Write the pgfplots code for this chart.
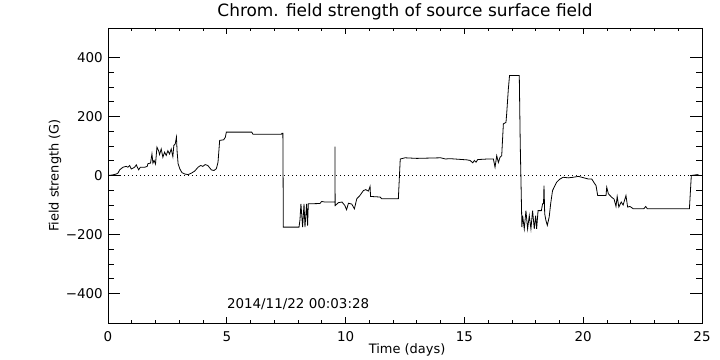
\documentclass[border=0pt]{standalone}
\usepackage{fontspec}
\setmainfont{DejaVu Sans}
\usepackage{pgfplots}
\pgfplotsset{compat=1.18}
\begin{document}
\begin{tikzpicture}
\path[use as bounding box] (0,0) rectangle (720bp,360bp);
\begin{axis}[
  at={(108bp,37bp)}, anchor=south west,
  scale only axis, width=594bp, height=295bp,
  xmin=0, xmax=25, ymin=-500, ymax=500,
  xtick={0,5,10,15,20,25}, minor x tick num=4,
  ytick={-400,-200,0,200,400}, yticklabels={−400,−200,0,200,400}, minor y tick num=3,
  tick align=inside,
  /pgf/number format/assume math mode=true,
  axis line style={line width=0.8bp},
  every tick/.style={black, line width=0.8bp},
  xtick style={/pgfplots/major tick length=6bp, /pgfplots/minor tick length=3bp},
  ytick style={/pgfplots/major tick length=12bp, /pgfplots/minor tick length=6bp},
  tick label style={font=\fontsize{13.5}{15}\selectfont},
  xticklabel style={anchor=north, inner sep=0pt, yshift=-8bp},
  yticklabel style={anchor=east, inner sep=0pt, xshift=-5bp},
  title={Chrom. field strength of source surface field},
  title style={at={(axis description cs:0.5,1.0203)}, anchor=base, inner sep=0pt, font=\fontsize{17}{19}\selectfont},
  xlabel={Time (days)},
  xlabel style={at={(axis description cs:0.5035,-0.09)}, anchor=center, inner sep=0pt, font=\fontsize{13}{15}\selectfont},
  ylabel={Field strength (G)},
  ylabel style={at={(axis description cs:-0.0892,0.5)}, anchor=center, inner sep=0pt, rotate=0, font=\fontsize{13}{15}\selectfont},
  clip=true,
]
\addplot[black, line width=0.8bp, dash pattern=on 1bp off 3bp] coordinates {(0,0) (25,0)};
\addplot[black, line width=0.8bp] coordinates {
(0,0) (0.2,2) (0.35,5) (0.42,8) (0.49,19) (0.63,28) (0.77,31) (0.84,28) (0.91,34) (0.98,22) (1.12,28) (1.19,36) (1.29,19) (1.36,28) (1.54,28) (1.65,31) (1.68,40) (1.79,42) (1.85,73) (1.89,42) (1.94,51) (2.0,39) (2.06,96) (2.13,84) (2.17,71) (2.24,90) (2.31,62) (2.38,79) (2.45,68) (2.52,84) (2.59,73) (2.66,90) (2.73,64) (2.77,102) (2.83,107) (2.88,130) (2.91,80) (2.95,40) (3.02,23) (3.11,10) (3.23,5) (3.37,3) (3.51,8) (3.65,15) (3.79,28) (3.9,34) (3.99,31) (4.09,37) (4.2,34) (4.35,19) (4.46,17) (4.56,23) (4.63,45) (4.7,119) (4.87,121) (4.94,130) (4.98,147) (6.05,147) (6.1,140) (7.3,140) (7.32,143) (7.36,143) (7.38,-175) (8.04,-175) (8.08,-150) (8.12,-96) (8.19,-175) (8.25,-96) (8.29,-175) (8.36,-96) (8.4,-170) (8.43,-96) (8.92,-95) (8.99,-88) (9.13,-90) (9.55,-90) (9.55,98) (9.56,-102) (9.7,-92) (9.85,-90) (9.97,-102) (10.04,-116) (10.12,-94) (10.26,-97) (10.37,-113) (10.47,-79) (10.6,-68) (10.75,-51) (10.85,-48) (10.96,-53) (11.03,-37) (11.05,-71) (11.45,-73) (11.52,-79) (12.22,-79) (12.3,56) (12.5,60) (13.0,58) (13.5,59) (14.0,60) (14.2,56) (14.4,57) (15.1,53) (15.24,51) (15.35,43) (15.42,51) (15.49,45) (15.56,54) (16.0,56) (16.22,56) (16.29,28) (16.36,67) (16.43,44) (16.5,62) (16.57,67) (16.64,175) (16.75,180) (16.78,210) (16.85,294) (16.9,339) (17.31,339) (17.35,107) (17.42,-175) (17.45,-136) (17.52,-181) (17.59,-119) (17.66,-181) (17.73,-136) (17.8,-181) (17.87,-119) (17.94,-181) (18.0,-136) (18.04,-181) (18.1,-119) (18.24,-119) (18.29,-96) (18.33,-96) (18.35,-34) (18.38,-130) (18.43,-152) (18.49,-169) (18.57,-140) (18.63,-96) (18.71,-51) (18.88,-23) (19.02,-12) (19.16,-6) (19.37,-8) (19.58,-6) (19.8,-3) (19.94,-6) (20.22,-12) (20.36,-12) (20.47,-26) (20.54,-34) (20.61,-68) (20.96,-68) (20.99,-40) (21.06,-62) (21.2,-74) (21.3,-80) (21.38,-105) (21.43,-71) (21.5,-107) (21.6,-90) (21.68,-100) (21.8,-68) (21.87,-107) (21.97,-105) (22.11,-113) (22.55,-113) (22.63,-105) (22.7,-113) (24.47,-113) (24.55,0) (24.8,3) (24.9,0) (25,0)
};
\node[anchor=base west, inner sep=0pt, font=\fontsize{13.5}{15}\selectfont] at (axis cs:5.0,-451) {2014/11/22 00:03:28};
\end{axis}
\end{tikzpicture}
\end{document}
